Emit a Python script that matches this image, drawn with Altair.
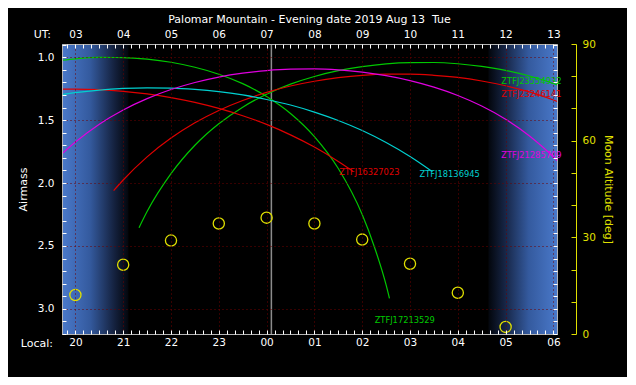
import altair as alt
import pandas as pd

FONT = "DejaVu Sans"
WHITE = "#ffffff"
FRAME = "#b4b4b4"
GRID = "#6e0000"
YELLOW = "#e0e000"

TITLE = "Palomar Mountain - Evening date 2019 Aug 13\u00a0 Tue"

# ---------------- data ----------------
targets = ["ZTFJ17213529", "ZTFJ23554932", "ZTFJ23246141",
           "ZTFJ16327023", "ZTFJ18136945", "ZTFJ21285709"]
target_colors = ["#00c800", "#00c800", "#e00000", "#e00000", "#00d0d0", "#e000e0"]

ut_17213529 = [2.73, 3.0, 3.5, 4.0, 4.5, 5.0, 5.5, 6.0, 6.5, 7.0, 7.5, 8.0, 8.5, 9.0, 9.25, 9.5, 9.57]
am_17213529 = [1.024, 1.013, 1.002, 1.003, 1.015, 1.040, 1.080, 1.135, 1.210, 1.312, 1.447, 1.631,
               1.885, 2.251, 2.502, 2.810, 2.916]

ut_23554932 = [4.33, 4.5, 5.0, 5.5, 6.0, 6.5, 7.0, 7.5, 8.0, 8.5, 9.0, 9.5, 10.0, 10.5, 11.0, 11.5,
               12.0, 12.5, 13.0, 13.08]
am_23554932 = [2.356, 2.227, 1.926, 1.700, 1.529, 1.397, 1.294, 1.214, 1.153, 1.107, 1.075, 1.053,
               1.043, 1.042, 1.052, 1.073, 1.104, 1.149, 1.209, 1.220]

ut_23246141 = [3.8, 4.0, 4.5, 5.0, 5.5, 6.0, 6.5, 7.0, 7.5, 8.0, 8.5, 9.0, 9.5, 10.0, 10.5, 11.0,
               11.5, 12.0, 12.5, 13.0, 13.08]
am_23246141 = [2.061, 1.976, 1.792, 1.643, 1.521, 1.423, 1.344, 1.280, 1.229, 1.191, 1.163, 1.144,
               1.135, 1.135, 1.144, 1.161, 1.189, 1.227, 1.276, 1.340, 1.351]

ut_16327023 = [2.73, 3.0, 3.5, 4.0, 4.5, 5.0, 5.5, 6.0, 6.5, 7.0, 7.5, 8.0, 8.5, 8.8]
am_16327023 = [1.254, 1.253, 1.258, 1.271, 1.292, 1.321, 1.359, 1.407, 1.465, 1.534, 1.617, 1.714,
               1.828, 1.904]

ut_18136945 = [2.73, 3.0, 3.5, 4.0, 4.5, 5.0, 5.5, 6.0, 6.5, 7.0, 7.5, 8.0, 8.5, 9.0, 9.5, 10.0, 10.47]
am_18136945 = [1.297, 1.282, 1.261, 1.248, 1.243, 1.245, 1.255, 1.273, 1.300, 1.336, 1.380, 1.436,
               1.503, 1.583, 1.678, 1.789, 1.910]

ut_21285709 = [2.73, 3.0, 3.5, 4.0, 4.5, 5.0, 5.5, 6.0, 6.5, 7.0, 7.5, 8.0, 8.5, 9.0, 9.5, 10.0,
               10.5, 11.0, 11.5, 12.0, 12.5, 13.0, 13.08]
am_21285709 = [1.764, 1.674, 1.532, 1.419, 1.329, 1.257, 1.201, 1.158, 1.127, 1.106, 1.095, 1.093,
               1.101, 1.119, 1.147, 1.186, 1.238, 1.304, 1.388, 1.493, 1.626, 1.793, 1.824]

# label anchor positions (UT hour, airmass)
label_ut = [9.26, 11.91, 11.91, 8.52, 10.20, 11.91]
label_am = [3.093, 1.196, 1.304, 1.921, 1.934, 1.786]

# moon altitude at each whole hour (UT)
moon_ut = [3, 4, 5, 6, 7, 8, 9, 10, 11, 12]
moon_alt = [12.1, 21.5, 29.0, 34.3, 36.1, 34.3, 29.3, 21.8, 12.8, 2.2]

now_ut = [7.1]
evening_twilight = [2.65, 4.11]
morning_twilight = [11.64, 13.17]

hour_ticks = [3, 4, 5, 6, 7, 8, 9, 10, 11, 12, 13]
airmass_ticks = [1.0, 1.5, 2.0, 2.5, 3.0]
moon_label_ticks = [0, 30, 60, 90]

# ---------------- tables ----------------
series = {
    "ZTFJ17213529": (ut_17213529, am_17213529),
    "ZTFJ23554932": (ut_23554932, am_23554932),
    "ZTFJ23246141": (ut_23246141, am_23246141),
    "ZTFJ16327023": (ut_16327023, am_16327023),
    "ZTFJ18136945": (ut_18136945, am_18136945),
    "ZTFJ21285709": (ut_21285709, am_21285709),
}
rows = []
for name, (uts, ams) in series.items():
    for u, a in zip(uts, ams):
        rows.append({"target": name, "ut": u, "airmass": a})
df_curves = pd.DataFrame(rows)
df_labels = pd.DataFrame({"target": targets, "ut": label_ut, "airmass": label_am})
df_moon = pd.DataFrame({"ut": moon_ut, "alt": moon_alt})
df_now = pd.DataFrame({"ut": now_ut})
df_eve = pd.DataFrame({"start": [evening_twilight[0]], "end": [evening_twilight[1]]})
df_morn = pd.DataFrame({"start": [morning_twilight[0]], "end": [morning_twilight[1]]})
df_carrier = pd.DataFrame({"ut": [7.0], "v": [1.5]})

minor_x = [h + m / 60 for h in range(2, 14) for m in range(0, 60, 10) if 2.72 <= h + m / 60 <= 13.075]
minor_air = [round(0.9 + 0.1 * i, 2) for i in range(24)]
moon_minor = list(range(0, 91, 10))

XD = [2.72, 13.075]
AD = [0.895, 3.2]


def xs():
    return alt.Scale(domain=XD, nice=False, zero=False)


def ys_air():
    return alt.Scale(domain=AD, reverse=True, nice=False, zero=False)


def ys_moon():
    return alt.Scale(domain=[0, 90], nice=False)


color_scale = alt.Scale(domain=targets, range=target_colors)

LOCAL_EXPR = "(((datum.value + 17) % 24) < 10 ? '0' : '') + ((datum.value + 17) % 24)"
UT_EXPR = "(datum.value < 10 ? '0' : '') + datum.value"

ax_local = alt.Axis(orient="bottom", values=hour_ticks, labelExpr=LOCAL_EXPR, labelColor=WHITE,
                    labelFont=FONT, labelFontSize=10.5, labelPadding=3, labelFlush=False,
                    labelOverlap=False, ticks=False, tickSize=0, domain=True, domainColor=FRAME,
                    grid=True, gridColor=GRID, gridDash=[1, 3], gridWidth=1,
                    title="Local:", titleColor=WHITE, titleFont=FONT, titleFontSize=11,
                    titleFontWeight="normal", titleX=-41.7, titleY=9, titleAlign="left",
                    titleBaseline="middle", titleAngle=0, zindex=1)
ax_ut = alt.Axis(orient="top", values=hour_ticks, labelExpr=UT_EXPR, labelColor=WHITE,
                 labelFont=FONT, labelFontSize=10.5, labelPadding=5, labelFlush=False,
                 labelOverlap=False, ticks=False, tickSize=0, domain=True, domainColor=FRAME,
                 grid=False, title="UT:", titleColor=WHITE, titleFont=FONT, titleFontSize=11,
                 titleFontWeight="normal", titleX=-28.7, titleY=-10, titleAlign="left",
                 titleBaseline="middle", titleAngle=0, zindex=1)
ax_air = alt.Axis(orient="left", values=airmass_ticks, format=".1f", labelColor=WHITE,
                  labelFont=FONT, labelFontSize=10.5, labelPadding=8, labelFlush=False,
                  labelOverlap=False, ticks=False, tickSize=0, domain=True, domainColor=FRAME,
                  grid=True, gridColor=GRID, gridDash=[1, 3], gridWidth=1,
                  title="Airmass", titleColor=WHITE, titleFont=FONT, titleFontSize=11,
                  titleFontWeight="normal", titlePadding=9, zindex=1)
ax_moon = alt.Axis(orient="right", offset=19, values=moon_label_ticks, labelColor=YELLOW,
                   labelFont=FONT, labelFontSize=10.5, labelPadding=6, labelFlush=False,
                   labelOverlap=False, ticks=False, tickSize=0, domain=True, domainColor=YELLOW,
                   grid=False, title="Moon Altitude [deg]", titleColor=YELLOW, titleFont=FONT,
                   titleFontSize=11, titleFontWeight="normal", titlePadding=7, zindex=1)


def tick_axis(orient, values, color=WHITE, size=4, offset=-4):
    return alt.Axis(orient=orient, offset=offset, values=values, ticks=True, tickSize=size,
                    tickColor=color, tickWidth=1, labels=False, domain=False, grid=False,
                    title=None, zindex=1)


grad_left = alt.LinearGradient(gradient="linear", x1=0, x2=1, y1=0, y2=0,
                               stops=[alt.GradientStop(color="#4d7dd0", offset=0),
                                      alt.GradientStop(color="#345a9e", offset=0.45),
                                      alt.GradientStop(color="#14213e", offset=0.8),
                                      alt.GradientStop(color="#03060c", offset=1)])
grad_right = alt.LinearGradient(gradient="linear", x1=0, x2=1, y1=0, y2=0,
                                stops=[alt.GradientStop(color="#03060c", offset=0),
                                       alt.GradientStop(color="#14213e", offset=0.2),
                                       alt.GradientStop(color="#345a9e", offset=0.55),
                                       alt.GradientStop(color="#4d7dd0", offset=1)])

eve = alt.Chart(df_eve).mark_rect(color=grad_left, clip=True).encode(
    x=alt.X("start:Q", scale=xs(), axis=None), x2="end:Q")
morn = alt.Chart(df_morn).mark_rect(color=grad_right, clip=True).encode(
    x=alt.X("start:Q", scale=xs(), axis=None), x2="end:Q")

now = alt.Chart(df_now).mark_rule(color="#8c8c8c", strokeWidth=1.5).encode(
    x=alt.X("ut:Q", scale=xs(), axis=None))

lines = alt.Chart(df_curves).mark_line(strokeWidth=1.2, interpolate="monotone", clip=True).encode(
    x=alt.X("ut:Q", scale=xs(), axis=ax_local),
    y=alt.Y("airmass:Q", scale=ys_air(), axis=ax_air),
    color=alt.Color("target:N", scale=color_scale, legend=None),
)

labels = alt.Chart(df_labels).mark_text(align="left", baseline="middle", font=FONT, fontSize=8.3).encode(
    x=alt.X("ut:Q", scale=xs(), axis=None),
    y=alt.Y("airmass:Q", scale=ys_air(), axis=None),
    color=alt.Color("target:N", scale=color_scale, legend=None),
    text="target:N",
)

moon = alt.Chart(df_moon).mark_point(shape="circle", filled=False, size=125, strokeWidth=1.3,
                                     color=YELLOW, opacity=1).encode(
    x=alt.X("ut:Q", scale=xs(), axis=ax_ut),
    y=alt.Y("alt:Q", scale=ys_moon(), axis=ax_moon),
)

c_top = alt.Chart(df_carrier).mark_point(opacity=0).encode(
    x=alt.X("ut:Q", scale=xs(), axis=tick_axis("top", minor_x)))
c_bottom = alt.Chart(df_carrier).mark_point(opacity=0).encode(
    x=alt.X("ut:Q", scale=xs(), axis=tick_axis("bottom", minor_x)))
c_left = alt.Chart(df_carrier).mark_point(opacity=0).encode(
    y=alt.Y("v:Q", scale=ys_air(), axis=tick_axis("left", minor_air)))
c_right = alt.Chart(df_carrier).mark_point(opacity=0).encode(
    y=alt.Y("v:Q", scale=ys_air(), axis=tick_axis("right", minor_air)))
c_moon = alt.Chart(df_carrier).mark_point(opacity=0).encode(
    y=alt.Y("v:Q", scale=ys_moon(), axis=tick_axis("right", moon_minor, color=YELLOW, size=5, offset=14)))

chart = alt.layer(eve, morn, now, lines, labels, moon, c_top, c_bottom, c_left, c_right, c_moon).resolve_scale(
    x="independent", y="independent"
).properties(
    width=495, height=290,
    background="black",
    padding={"left": 54, "top": 36, "right": 70, "bottom": 43},
    autosize=alt.AutoSizeParams(type="none"),
    title=alt.TitleParams(text=TITLE, color=WHITE, font=FONT, fontSize=11, fontWeight="normal",
                          anchor="middle", frame="group", offset=3),
).configure_view(stroke=FRAME, strokeWidth=1)

chart.save("out.html", embed_options={"renderer": "svg", "actions": False})
